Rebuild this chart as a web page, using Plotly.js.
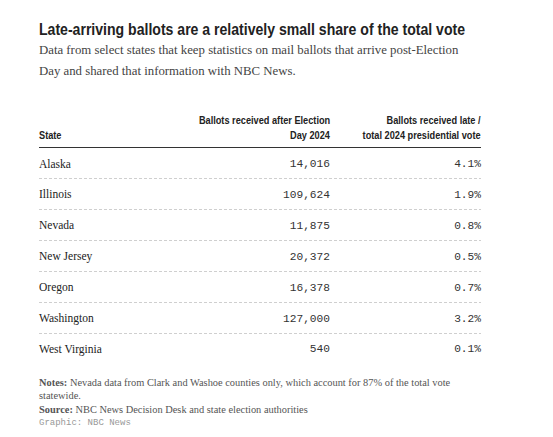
<!DOCTYPE html>
<html>
<head>
<meta charset="utf-8">
<script src="https://cdn.plot.ly/plotly-3.0.1.min.js"></script>
<style>html,body{margin:0;padding:0;background:#fff;}#chart{width:553px;height:437px;}</style>
</head>
<body>
<div id="chart"></div>
<script>
// ---- data ----
const states = ['Alaska', 'Illinois', 'Nevada', 'New Jersey', 'Oregon', 'Washington', 'West Virginia'];
const ballotsAfterElectionDay = [14016, 109624, 11875, 20372, 16378, 127000, 540];
const shareOfTotalVote = [4.1, 1.9, 0.8, 0.5, 0.7, 3.2, 0.1];
const columnHeaders = [
  ['', 'State'],
  ['Ballots received after Election', 'Day 2024'],
  ['Ballots received late /', 'total 2024 presidential vote']
];
const titleText = 'Late-arriving ballots are a relatively small share of the total vote';
const subtitleLines = [
  'Data from select states that keep statistics on mail ballots that arrive post-Election',
  'Day and shared that information with NBC News.'
];
const notesLines = [
  '<b>Notes:</b> Nevada data from Clark and Washoe counties only, which account for 87% of the total vote',
  'statewide.'
];
const sourceText = '<b>Source:</b> NBC News Decision Desk and state election authorities';
const creditText = 'Graphic: NBC News';

// ---- layout helpers ----
const W = 553, H = 437;
const L = 39, R = 481, T = 148, B = 364;
const py = p => (B - p) / (B - T);           // pixel y -> paper y
const colX = [0, (330 - L) / (R - L), 1];     // column anchor positions on x axis

const rowIdx = states.map((_, i) => i);
const sansC = 'Liberation Sans, Arial, sans-serif';
const serif = 'Liberation Serif, DejaVu Serif, serif';
const mono = 'Liberation Mono, DejaVu Sans Mono, monospace';
const NARROW = 0.8;       // horizontal squeeze to imitate a condensed grotesque
const TITLE_NARROW = 0.828;
const SERIF_NARROW = 0.9;

const traces = [
  {
    type: 'scatter', mode: 'text', x: states.map(() => colX[0]), y: rowIdx,
    text: states, textposition: 'middle right',
    textfont: {family: serif, size: 12.8, color: '#222'}, hoverinfo: 'skip', cliponaxis: false
  },
  {
    type: 'scatter', mode: 'text', x: states.map(() => colX[1]), y: rowIdx,
    text: ballotsAfterElectionDay.map(v => v.toLocaleString('en-US')), textposition: 'middle left',
    textfont: {family: mono, size: 11.2, color: '#333'}, hoverinfo: 'skip', cliponaxis: false
  },
  {
    type: 'scatter', mode: 'text', x: states.map(() => colX[2]), y: rowIdx,
    text: shareOfTotalVote.map(v => v.toFixed(1) + '%'), textposition: 'middle left',
    textfont: {family: mono, size: 11.2, color: '#333'}, hoverinfo: 'skip', cliponaxis: false
  }
];

const annotations = [];
const condensed = [];   // [annotation index, origin]
const hdrAnchor = ['left', 'right', 'right'];
columnHeaders.forEach((lines, c) => {
  lines.forEach((t, k) => {
    if (!t) return;
    condensed.push([annotations.length, hdrAnchor[c]]);
    annotations.push({
      xref: 'x', yref: 'paper', x: colX[c], y: py(k === 0 ? 120 : 135),
      xanchor: hdrAnchor[c], yanchor: 'middle', showarrow: false, text: '<b>' + t + '</b>',
      xshift: hdrAnchor[c] === 'left' ? -2 : 2,
      font: {family: sansC, size: 11.5, color: '#222'}
    });
  });
});
subtitleLines.forEach((t, k) => {
  annotations.push({
    xref: 'paper', yref: 'paper', x: 0, y: py(50 + k * 21), xanchor: 'left', yanchor: 'middle',
    showarrow: false, text: t, xshift: -2, font: {family: serif, size: 12.8, color: '#444'}
  });
});
notesLines.forEach((t, k) => {
  annotations.push({
    xref: 'paper', yref: 'paper', x: 0, y: py(382.5 + k * 13), xanchor: 'left', yanchor: 'middle',
    showarrow: false, text: t, xshift: -2, font: {family: serif, size: 10.4, color: '#555'}
  });
});
annotations.push({
  xref: 'paper', yref: 'paper', x: 0, y: py(409), xanchor: 'left', yanchor: 'middle',
  showarrow: false, text: sourceText, xshift: -2, font: {family: serif, size: 10.4, color: '#555'}
});
annotations.push({
  xref: 'paper', yref: 'paper', x: 0, y: py(422.5), xanchor: 'left', yanchor: 'middle',
  showarrow: false, text: creditText, xshift: -2, font: {family: mono, size: 9, color: '#999'}
});

const layout = {
  width: W, height: H,
  margin: {l: L, r: W - R, t: T, b: H - B, pad: 0},
  paper_bgcolor: '#fff', plot_bgcolor: '#fff',
  showlegend: false,
  title: {
    text: '<b>' + titleText + '</b>', xref: 'container', yref: 'container',
    x: L / W, xanchor: 'left', y: 1 - 29 / H, yanchor: 'middle',
    font: {family: sansC, size: 17, color: '#222'}
  },
  xaxis: {
    range: [0, 1], side: 'top', showline: true, linecolor: '#333', linewidth: 1.5,
    showgrid: false, zeroline: false, showticklabels: false, ticks: '', fixedrange: true
  },
  yaxis: {
    range: [states.length - 0.5, -0.5],
    tickvals: rowIdx.slice(1).map(i => i - 0.5),
    showgrid: true, gridcolor: '#cfcfcf', griddash: '3px,2px', gridwidth: 1,
    showline: false, zeroline: false, showticklabels: false, ticks: '', fixedrange: true
  },
  annotations: annotations
};

function squeeze(el, k, origin, dy) {
  el.style.transformBox = 'fill-box';
  el.style.transformOrigin = origin + ' center';
  el.style.transform = (dy ? 'translateY(' + dy + 'px) ' : '') + 'scaleX(' + k + ')';
}

Plotly.newPlot('chart', traces, layout, {displayModeBar: false, staticPlot: true}).then(gd => {
  const t = gd.querySelector('.gtitle');
  if (t) squeeze(t, TITLE_NARROW, 'left');
  const anns = gd.querySelectorAll('.annotation');
  condensed.forEach(([i, o]) => {
    const a = gd.querySelector('.annotation[data-index="' + i + '"] .annotation-text') ||
              (anns[i] && anns[i].querySelector('.annotation-text'));
    if (a) squeeze(a, NARROW, o);
  });
  const tr = gd.querySelectorAll('.scatterlayer .trace');
  if (tr[0]) tr[0].querySelectorAll('text').forEach(el => squeeze(el, SERIF_NARROW, 'left', 1));
  for (let j = 1; j < tr.length; j++) tr[j].querySelectorAll('text').forEach(el => squeeze(el, 1, 'right', 1));
});
</script>
</body>
</html>
